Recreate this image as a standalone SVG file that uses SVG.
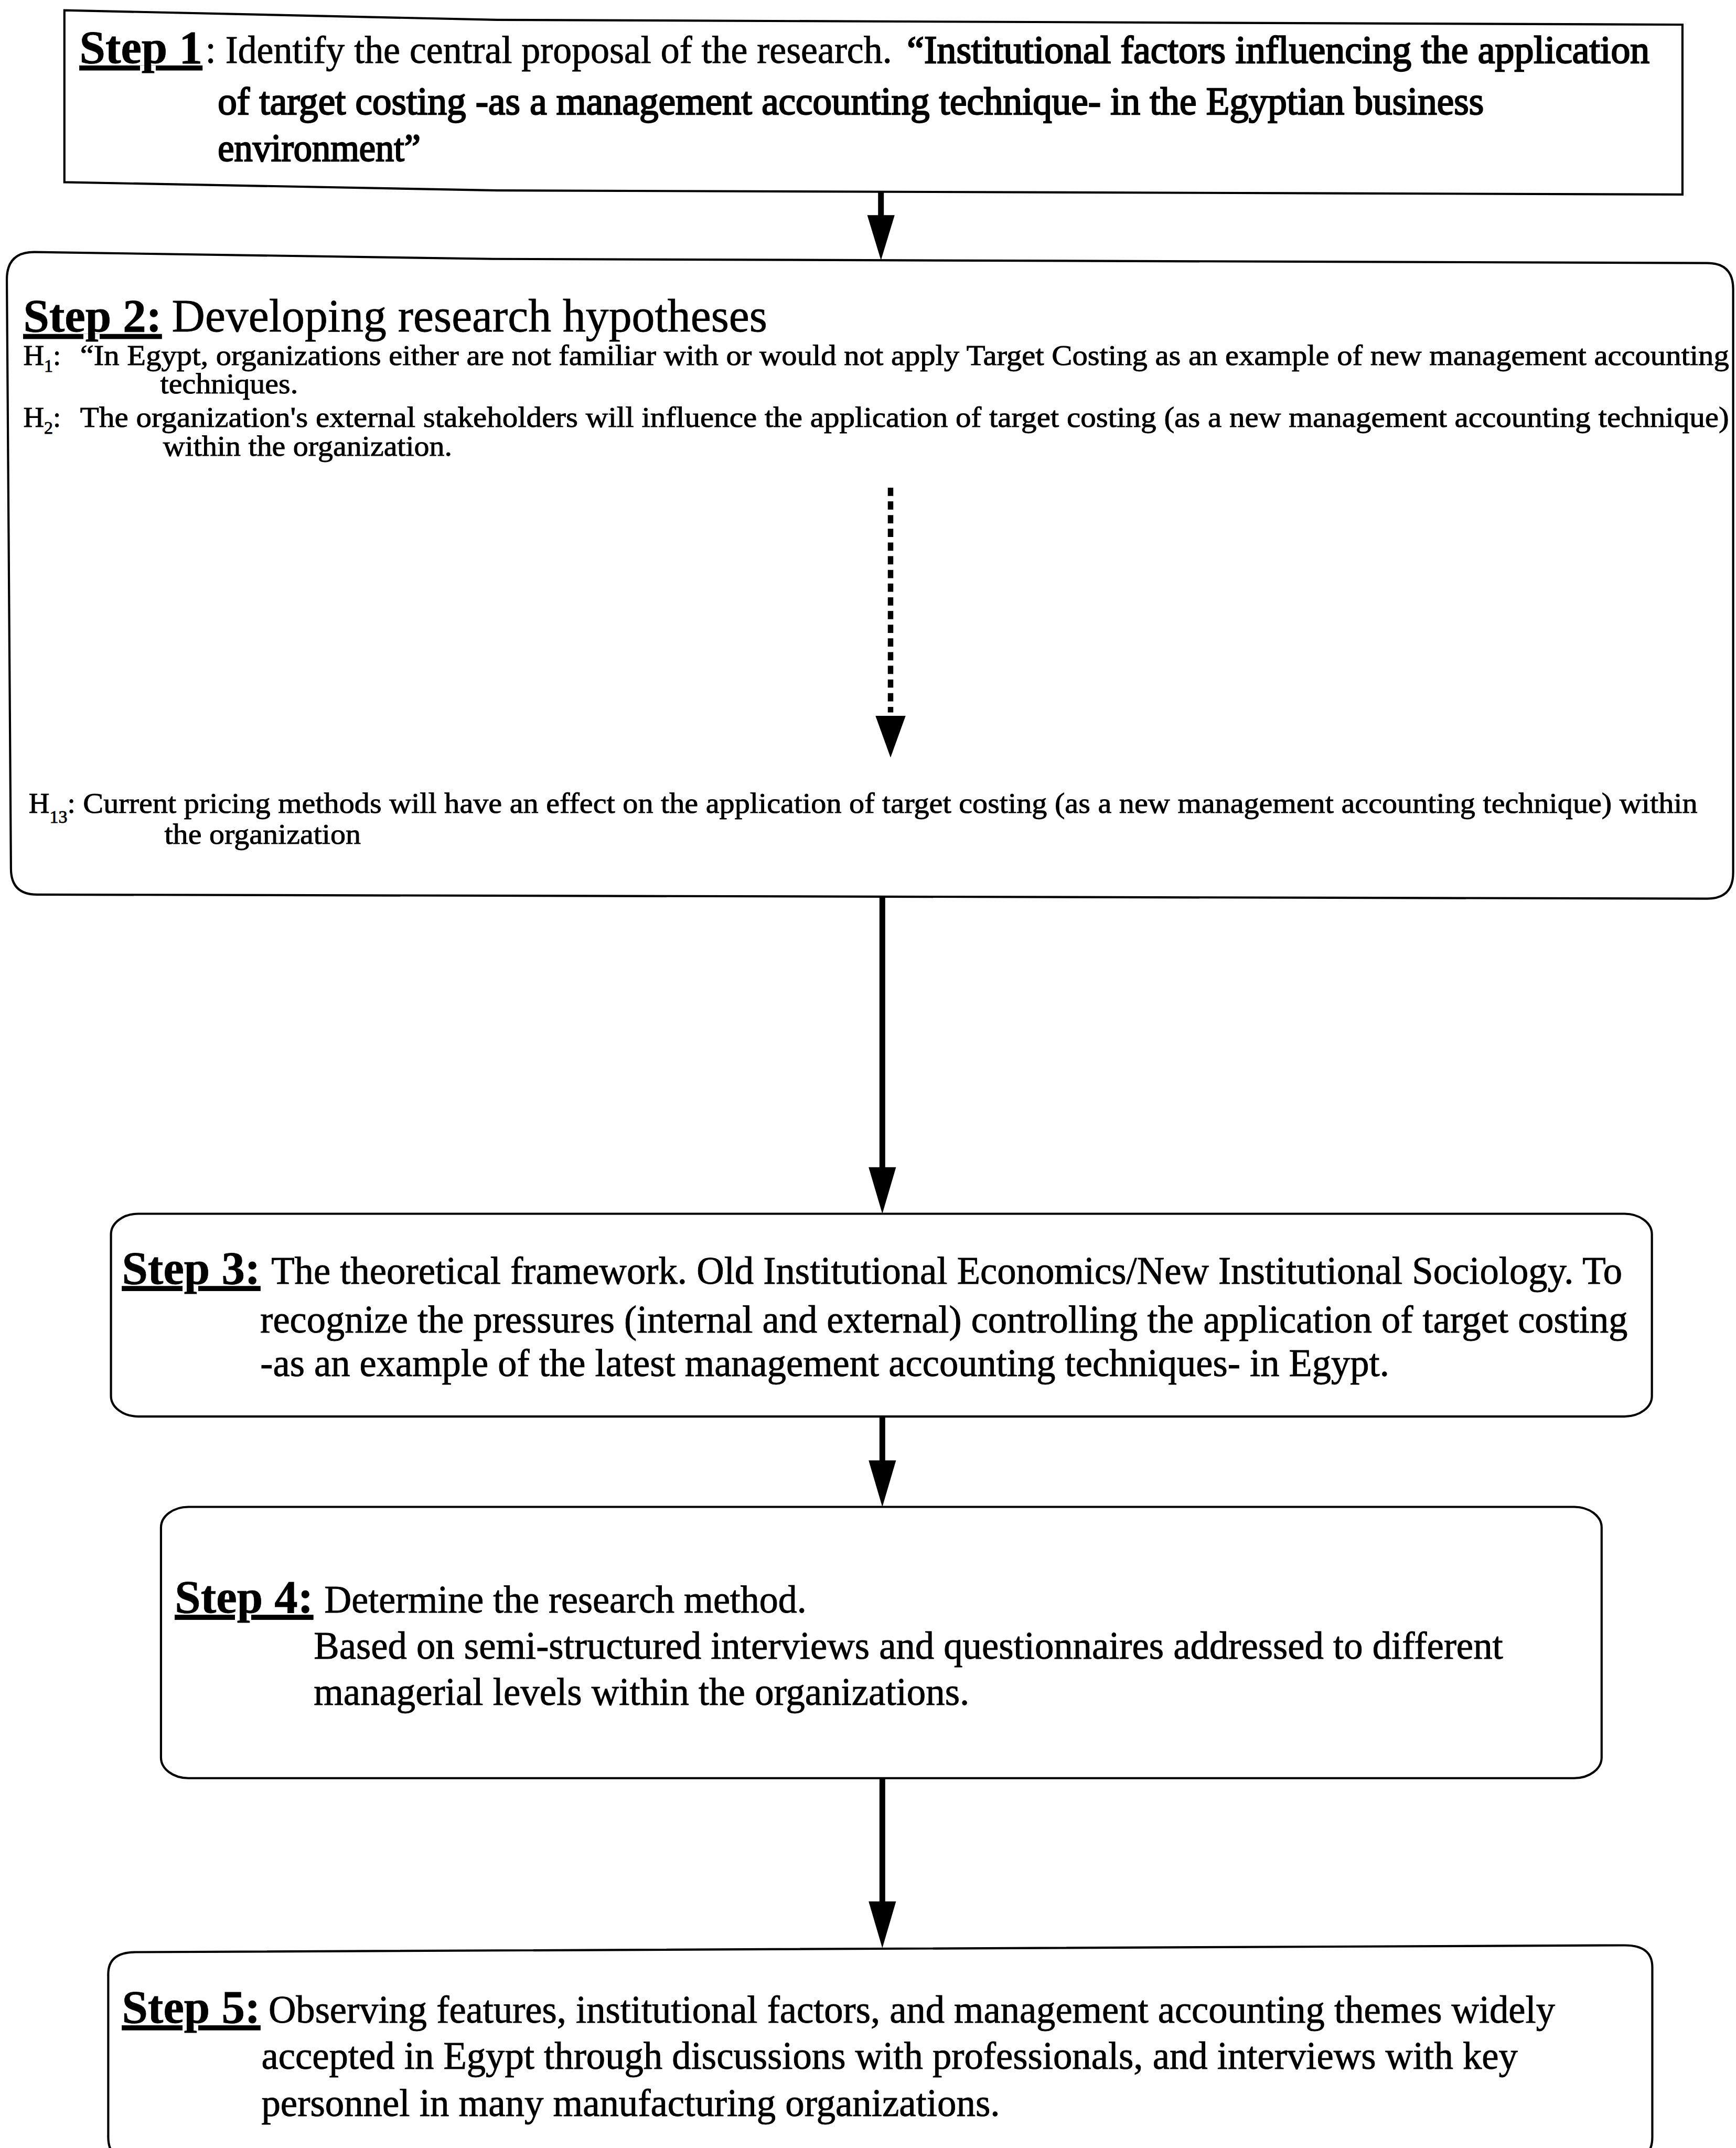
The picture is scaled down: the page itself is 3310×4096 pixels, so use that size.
<svg xmlns="http://www.w3.org/2000/svg" width="3310" height="4096" viewBox="0 0 3310 4096">
  <style>
    .box { fill: #fff; stroke: #000; stroke-width: 1.6; }
    .lbl { font-family: "Liberation Serif", "Times New Roman", serif; font-weight: bold; font-size: 34px; text-decoration: underline; fill: #000; stroke: #000; stroke-width: 0.3; }
    .ttl { font-family: "Liberation Serif", "Times New Roman", serif; font-size: 34px; fill: #000; stroke: #000; stroke-width: 0.3; }
    .txt { font-family: "Liberation Serif", "Times New Roman", serif; font-size: 28px; fill: #000; stroke: #000; stroke-width: 0.35; }
    .hyp { font-family: "Liberation Serif", "Times New Roman", serif; font-size: 21px; fill: #000; stroke: #000; stroke-width: 0.35; }
    .sub { font-size: 13px; }
    .strong { stroke-width: 0.9; }
    .wire { fill: none; stroke: #000; stroke-width: 4.2; }
    .dots { fill: none; stroke: #000; stroke-width: 4; stroke-dasharray: 6 4; }
    .head { fill: #000; stroke: none; }
  </style>
  <rect width="3310" height="4096" fill="#fff"/>
  <!-- layout is authored on a 1267 x 1568 grid and scaled up to the page -->
  <g transform="scale(2.6123)">

    <!-- Step 1: central proposal -->
    <g id="step1">
      <path class="box" d="M47,7.5 L363,14.5 L1228,18 L1228,142 L363,139 L47,133 Z"/>
      <text class="lbl" x="58" y="46">Step 1</text>
      <text class="txt" x="150" y="46" textLength="501" lengthAdjust="spacingAndGlyphs">: Identify the central proposal of the research.</text>
      <text class="txt strong" x="662" y="46" textLength="542" lengthAdjust="spacingAndGlyphs">“Institutional factors influencing the application</text>
      <text class="txt strong" x="159" y="83.6" textLength="924" lengthAdjust="spacingAndGlyphs">of target costing -as a management accounting technique- in the Egyptian business</text>
      <text class="txt strong" x="159" y="117.6" textLength="148" lengthAdjust="spacingAndGlyphs">environment”</text>
    </g>

    <!-- Step 2: hypotheses -->
    <g id="step2">
      <path class="box" d="M5,204 Q5,184 25,184 L360,189 L1246,192 Q1265,192 1265,211 L1265,637 Q1265,656 1246,656 L27,653 Q8,653 8,634 Z"/>
      <text class="lbl" x="17" y="242">Step 2:</text>
      <text class="ttl" x="125.4" y="242" textLength="434.6" lengthAdjust="spacingAndGlyphs">Developing research hypotheses</text>

      <text class="hyp" x="17" y="266.5">H<tspan class="sub" dy="5">1</tspan><tspan dy="-5">:</tspan></text>
      <text class="hyp" x="58.5" y="266.5" textLength="1203.5" lengthAdjust="spacingAndGlyphs">“In Egypt, organizations either are not familiar with or would not apply Target Costing as an example of new management accounting</text>
      <text class="hyp" x="117" y="287" textLength="100.5" lengthAdjust="spacingAndGlyphs">techniques.</text>

      <text class="hyp" x="17" y="311.5">H<tspan class="sub" dy="5">2</tspan><tspan dy="-5">:</tspan></text>
      <text class="hyp" x="58.5" y="311.5" textLength="1203.5" lengthAdjust="spacingAndGlyphs">The organization's external stakeholders will influence the application of target costing (as a new management accounting technique)</text>
      <text class="hyp" x="119" y="332.5" textLength="211" lengthAdjust="spacingAndGlyphs">within the organization.</text>

      <text class="hyp" x="21" y="593.5">H<tspan class="sub" dy="7">13</tspan><tspan dy="-7">:</tspan></text>
      <text class="hyp" x="60.6" y="593.5" textLength="1178.4" lengthAdjust="spacingAndGlyphs">Current pricing methods will have an effect on the application of target costing (as a new management accounting technique) within</text>
      <text class="hyp" x="120" y="616" textLength="143.4" lengthAdjust="spacingAndGlyphs">the organization</text>
    </g>

    <!-- Step 3: theoretical framework -->
    <g id="step3">
      <rect class="box" x="81" y="886" width="1124.7" height="148" rx="20" ry="15"/>
      <text class="lbl" x="89" y="937">Step 3:</text>
      <text class="txt" x="198" y="937" textLength="986" lengthAdjust="spacingAndGlyphs">The theoretical framework. Old Institutional Economics/New Institutional Sociology. To</text>
      <text class="txt" x="190" y="972.6" textLength="998" lengthAdjust="spacingAndGlyphs">recognize the pressures (internal and external) controlling the application of target costing</text>
      <text class="txt" x="190" y="1004.6" textLength="824" lengthAdjust="spacingAndGlyphs">-as an example of the latest management accounting techniques- in Egypt.</text>
    </g>

    <!-- Step 4: research method -->
    <g id="step4">
      <rect class="box" x="117.5" y="1100" width="1051.5" height="198" rx="20" ry="15"/>
      <text class="lbl" x="127.6" y="1177">Step 4:</text>
      <text class="txt" x="236.7" y="1177" textLength="352" lengthAdjust="spacingAndGlyphs">Determine the research method.</text>
      <text class="txt" x="229" y="1211" textLength="868" lengthAdjust="spacingAndGlyphs">Based on semi-structured interviews and questionnaires addressed to different</text>
      <text class="txt" x="229" y="1244.6" textLength="478.5" lengthAdjust="spacingAndGlyphs">managerial levels within the organizations.</text>
    </g>

    <!-- Step 5: observation -->
    <g id="step5">
      <path class="box" d="M79,1441 Q79,1425 99,1425 L1186,1420 Q1206,1420 1206,1436 L1206,1560 Q1206,1578 1186,1578 L99,1578 Q79,1578 79,1560 Z"/>
      <text class="lbl" x="89" y="1476.6">Step 5:</text>
      <text class="txt" x="196" y="1476.6" textLength="939" lengthAdjust="spacingAndGlyphs">Observing features, institutional factors, and management accounting themes widely</text>
      <text class="txt" x="190.8" y="1510" textLength="917" lengthAdjust="spacingAndGlyphs">accepted in Egypt through discussions with professionals, and interviews with key</text>
      <text class="txt" x="190.8" y="1544.5" textLength="539" lengthAdjust="spacingAndGlyphs">personnel in many manufacturing organizations.</text>
    </g>

    <!-- flow arrows between the steps -->
    <g id="connectors">
      <line class="wire" x1="643" y1="140" x2="643" y2="160"/>
      <polygon class="head" points="633,157 653,157 643,190"/>

      <line class="dots" x1="650" y1="356" x2="650" y2="520"/>
      <polygon class="head" points="639,522.5 661,522.5 650,553"/>

      <line class="wire" x1="644" y1="655" x2="644" y2="855"/>
      <polygon class="head" points="634,852 654,852 644,886"/>

      <line class="wire" x1="644" y1="1034" x2="644" y2="1069"/>
      <polygon class="head" points="634,1066 654,1066 644,1100"/>

      <line class="wire" x1="644" y1="1298" x2="644" y2="1391"/>
      <polygon class="head" points="634,1388 654,1388 644,1422"/>
    </g>
  </g>
</svg>
